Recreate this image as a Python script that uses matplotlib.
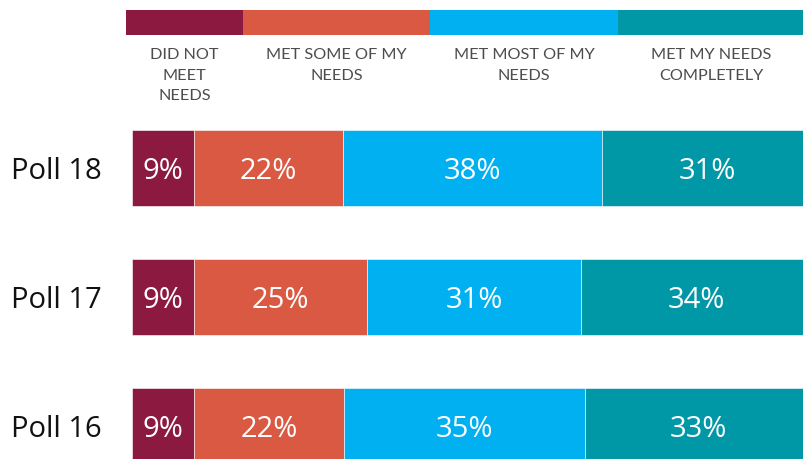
import matplotlib
matplotlib.use("Agg")
import matplotlib.pyplot as plt
import numpy as np

# ---- data ----
polls = ["Poll 18", "Poll 17", "Poll 16"]
categories = ["DID NOT\nMEET\nNEEDS", "MET SOME OF MY\nNEEDS", "MET MOST OF MY\nNEEDS", "MET MY NEEDS\nCOMPLETELY"]
did_not = [9.0, 9.1, 9.1]
met_some = [22.0, 25.4, 22.0]
met_most = [38.0, 31.4, 35.4]
met_complete = [31.0, 34.1, 33.4]

colors = ["#8C1940", "#DA5943", "#00B0F0", "#0098A6"]

W, H = 804, 459
fig = plt.figure(figsize=(W / 100, H / 100), dpi=100)

# ---- main bars ----
ax = fig.add_axes([132.3 / W, (H - 490.8) / H, 680.5 / W, 387 / H])
series = np.array([did_not, met_some, met_most, met_complete], dtype=float)
y = np.arange(len(polls))
left = np.zeros(len(polls))
for i in range(len(categories)):
    ax.barh(y, series[i], left=left, height=76 / 129, color=colors[i],
            edgecolor="white", linewidth=0.4)
    for j in range(len(polls)):
        ax.text(left[j] + series[i][j] / 2, y[j], f"{series[i][j]:.0f}%",
                ha="center", va="center_baseline", color="white", fontsize=21,
                family="Open Sans")
    left += series[i]

ax.set_xlim(0, 100)
ax.set_ylim(2.5, -0.5)
ax.set_yticks(y)
ax.set_yticklabels(polls, fontsize=21, family="Open Sans", color="#111111",
                   va="center_baseline")
ax.tick_params(axis="y", length=0, pad=22)
ax.set_xticks([])
for s in ax.spines.values():
    s.set_visible(False)

# ---- legend bar ----
leg_widths = [117, 187, 188, 186]
lax = fig.add_axes([126 / W, (H - 34.7) / H, 678 / W, 24.7 / H])
lx = 0
for i, w in enumerate(leg_widths):
    lax.barh(0, w, left=lx, height=1, color=colors[i], linewidth=0)
    lax.text(lx + w / 2, -1.05, categories[i], ha="center", va="top",
             fontsize=11.7, color="#4d4d4d", family="Lato", linespacing=1.58)
    lx += w
lax.set_xlim(0, sum(leg_widths))
lax.set_ylim(-0.5, 0.5)
lax.axis("off")

fig.savefig("out.png", dpi=100)
